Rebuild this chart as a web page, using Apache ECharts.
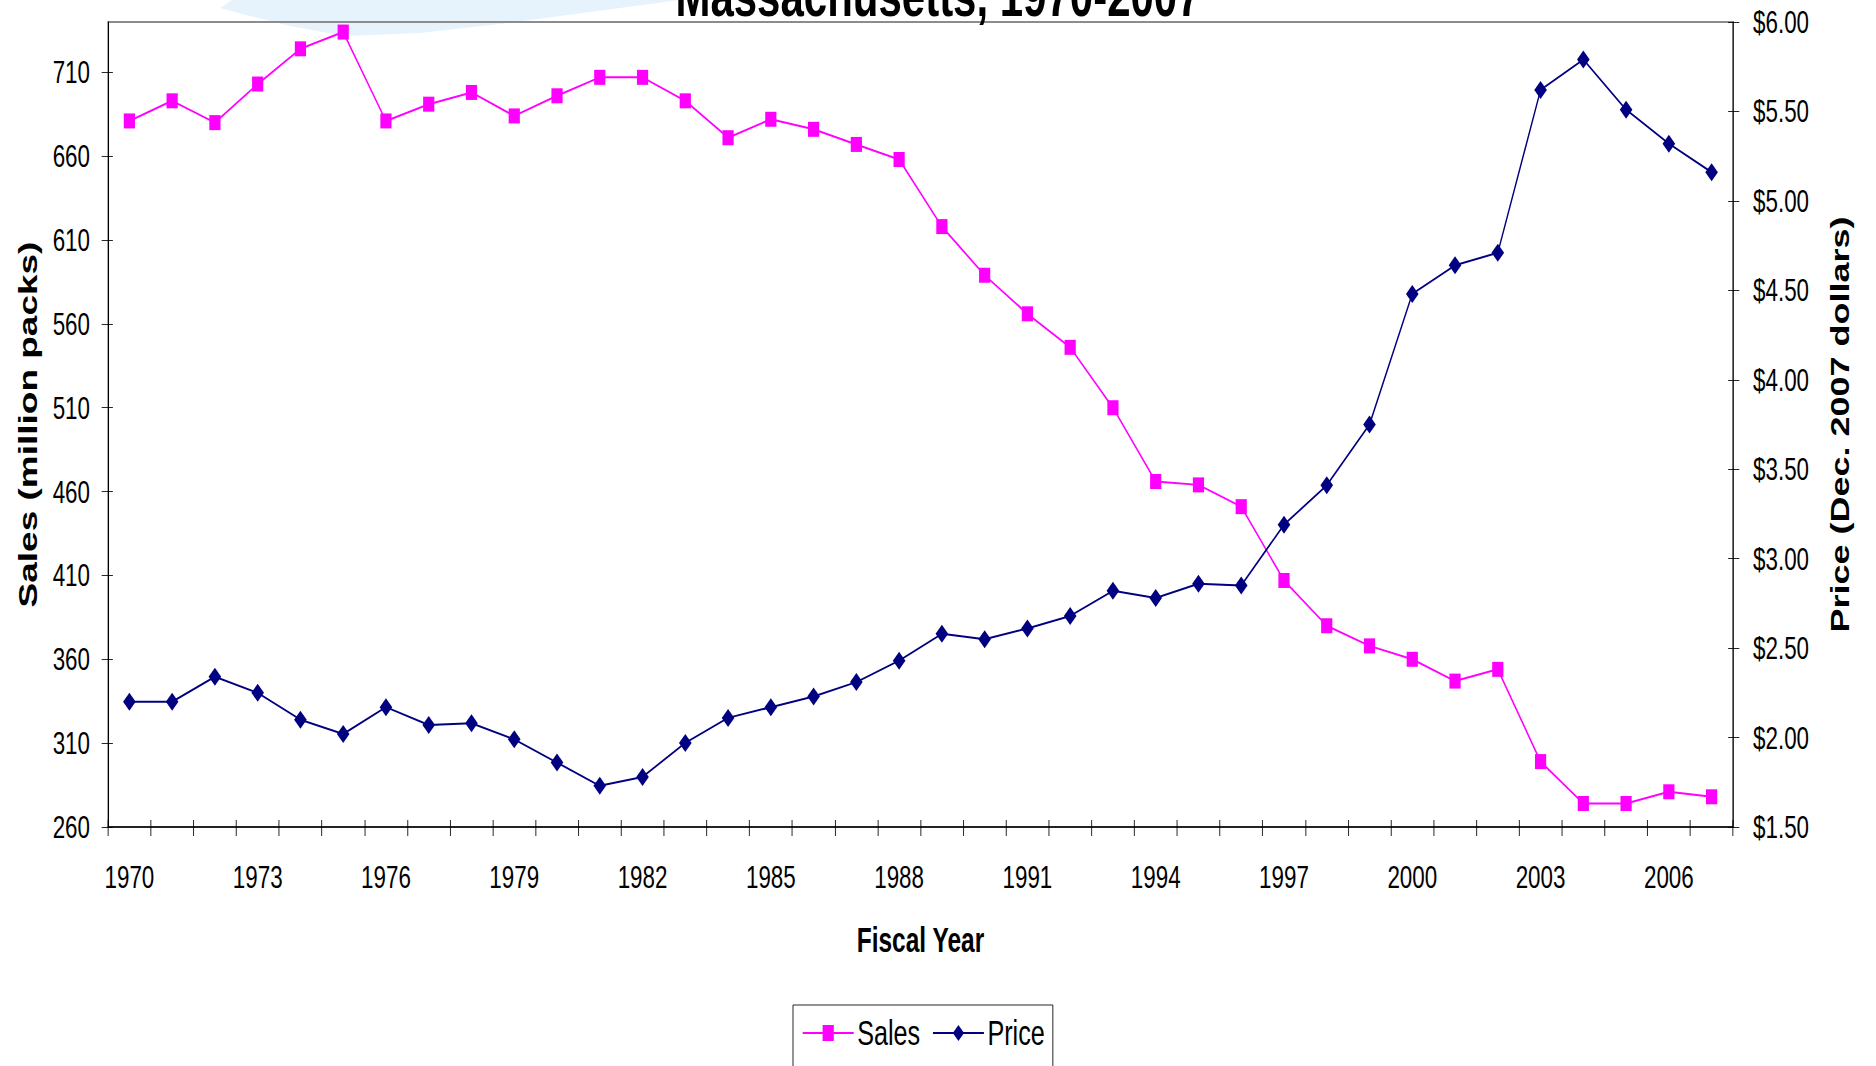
<!DOCTYPE html>
<html>
<head>
<meta charset="utf-8">
<script src="https://cdn.jsdelivr.net/npm/echarts@6/dist/echarts.min.js"></script>
<style>
  html, body { margin: 0; padding: 0; overflow: hidden; background: #fff; width: 1876px; height: 1066px; }
  #chart { height: 1066px; transform-origin: 0 0; }
</style>
</head>
<body>
<div id="chart"></div>
<script>
// ---- data ----
const years = ['1970','1971','1972','1973','1974','1975','1976','1977','1978','1979',
  '1980','1981','1982','1983','1984','1985','1986','1987','1988','1989',
  '1990','1991','1992','1993','1994','1995','1996','1997','1998','1999',
  '2000','2001','2002','2003','2004','2005','2006','2007'];
const sales = [681, 693, 680, 703, 724, 734, 681, 691, 698, 684,
  696, 707, 707, 693, 671, 682, 676, 667, 658, 618,
  589, 566, 546, 510, 466, 464, 451, 407, 380, 368,
  360, 347, 354, 299, 274, 274, 281, 278];
const price = [2.20, 2.20, 2.34, 2.25, 2.10, 2.02, 2.17, 2.07, 2.08, 1.99,
  1.86, 1.73, 1.78, 1.97, 2.11, 2.17, 2.23, 2.31, 2.43, 2.58,
  2.55, 2.61, 2.68, 2.82, 2.78, 2.86, 2.85, 3.19, 3.41, 3.75,
  4.48, 4.64, 4.71, 5.62, 5.79, 5.51, 5.32, 5.16];
const salesTicks = [260, 310, 360, 410, 460, 510, 560, 610, 660, 710];
const priceTicks = [1.5, 2.0, 2.5, 3.0, 3.5, 4.0, 4.5, 5.0, 5.5, 6.0];
const seriesNames = ['Sales', 'Price'];
const titleText = 'Massachusetts, 1970-2007';

// ---- layout (the reference is horizontally condensed; draw wide, then condense) ----
const S = 0.7;
const W = 1876 / S;
const el = document.getElementById('chart');
el.style.width = W + 'px';
el.style.transform = 'scaleX(' + S + ')';

const FONT = "'Liberation Sans', Arial, sans-serif";
const chart = echarts.init(el, null, { renderer: 'svg', width: W, height: 1066 });

const grid = { left: 108 / S, right: 143 / S, top: 22, bottom: 239 };
const swoosh = [[220,8],[250,16],[290,26],[345,36],[420,33],[500,24],[590,12],[680,0],[232,0]];

const option = {
  animation: false,
  backgroundColor: '#fff',
  title: {
    text: titleText, left: 'center', top: -40,
    textStyle: { fontFamily: FONT, fontSize: 60, fontWeight: 'bold', color: '#000' }
  },
  graphic: [{
    type: 'polygon', z: -10, silent: true,
    shape: { points: swoosh.map(p => [p[0] / S, p[1]]) },
    style: { fill: '#E6F3FC' }
  }],
  legend: {
    data: seriesNames, top: 1005, left: 793 / S, orient: 'horizontal',
    itemWidth: 51 / S, itemHeight: 20, itemGap: 12 / S,
    padding: [10, 8 / S, 40, 9 / S],
    borderColor: '#000', borderWidth: 1, backgroundColor: '#fff',
    textStyle: { fontFamily: FONT, fontSize: 36, color: '#000' }
  },
  grid: Object.assign({ show: true, borderColor: '#8c8c8c', borderWidth: 2, backgroundColor: 'transparent' }, grid),
  xAxis: [{
    type: 'category', data: years, boundaryGap: true, position: 'bottom',
    name: 'Fiscal Year', nameLocation: 'middle', nameGap: 95,
    nameTextStyle: { fontFamily: FONT, fontSize: 35, fontWeight: 'bold', color: '#000' },
    axisLine: { show: true, lineStyle: { color: '#000', width: 1.5 } },
    axisTick: { show: true, interval: 0, length: 9, lineStyle: { color: '#000', width: 1 } },
    axisLabel: { interval: 2, margin: 34, fontFamily: FONT, fontSize: 32, color: '#000' },
    splitLine: { show: false }
  }, {
    type: 'category', data: years, boundaryGap: true, position: 'bottom',
    axisLine: { show: false },
    axisTick: { show: true, inside: true, interval: 0, length: 7, lineStyle: { color: '#000', width: 1 } },
    axisLabel: { show: false }, splitLine: { show: false }
  }],
  yAxis: [{
    type: 'value', position: 'left', min: 260, max: 740, interval: 50,
    name: 'Sales (million packs)', nameLocation: 'middle', nameRotate: 90, nameGap: 95,
    nameTextStyle: { fontFamily: FONT, fontSize: 37, fontWeight: 'bold', color: '#000' },
    axisLine: { show: true, lineStyle: { color: '#000', width: 1.5 } },
    axisTick: { show: true, length: 9, customValues: salesTicks, lineStyle: { color: '#000' } },
    axisLabel: { customValues: salesTicks, margin: 18 / S, fontFamily: FONT, fontSize: 32, color: '#000' },
    splitLine: { show: false }
  }, {
    type: 'value', position: 'right', min: 1.5, max: 6, interval: 0.5,
    name: 'Price (Dec. 2007 dollars)', nameLocation: 'middle', nameRotate: 90, nameGap: 135,
    nameTextStyle: { fontFamily: FONT, fontSize: 36, fontWeight: 'bold', color: '#000' },
    axisLine: { show: true, lineStyle: { color: '#000', width: 1.5 } },
    axisTick: { show: true, length: 9, customValues: priceTicks, lineStyle: { color: '#000' } },
    axisLabel: { customValues: priceTicks, margin: 20 / S, fontFamily: FONT, fontSize: 32, color: '#000',
      formatter: v => '$' + v.toFixed(2) },
    splitLine: { show: false }
  }, {
    type: 'value', position: 'left', min: 260, max: 740, interval: 50,
    axisLine: { show: false },
    axisTick: { show: true, inside: true, length: 7, customValues: salesTicks, lineStyle: { color: '#000' } },
    axisLabel: { show: false }, splitLine: { show: false }
  }, {
    type: 'value', position: 'right', min: 1.5, max: 6, interval: 0.5,
    axisLine: { show: false },
    axisTick: { show: true, inside: true, length: 7, customValues: priceTicks, lineStyle: { color: '#000' } },
    axisLabel: { show: false }, splitLine: { show: false }
  }],
  series: [{
    name: seriesNames[0], type: 'line', xAxisIndex: 0, yAxisIndex: 0, data: sales,
    symbol: 'rect', symbolSize: [16, 15], color: '#FF00FF',
    itemStyle: { color: '#FF00FF' }, lineStyle: { color: '#FF00FF', width: 2 }, z: 3
  }, {
    name: seriesNames[1], type: 'line', xAxisIndex: 0, yAxisIndex: 1, data: price,
    symbol: 'diamond', symbolSize: [18, 18], color: '#000080',
    itemStyle: { color: '#000080' }, lineStyle: { color: '#000080', width: 2 }, z: 4
  }]
};
chart.setOption(option);
</script>
</body>
</html>
